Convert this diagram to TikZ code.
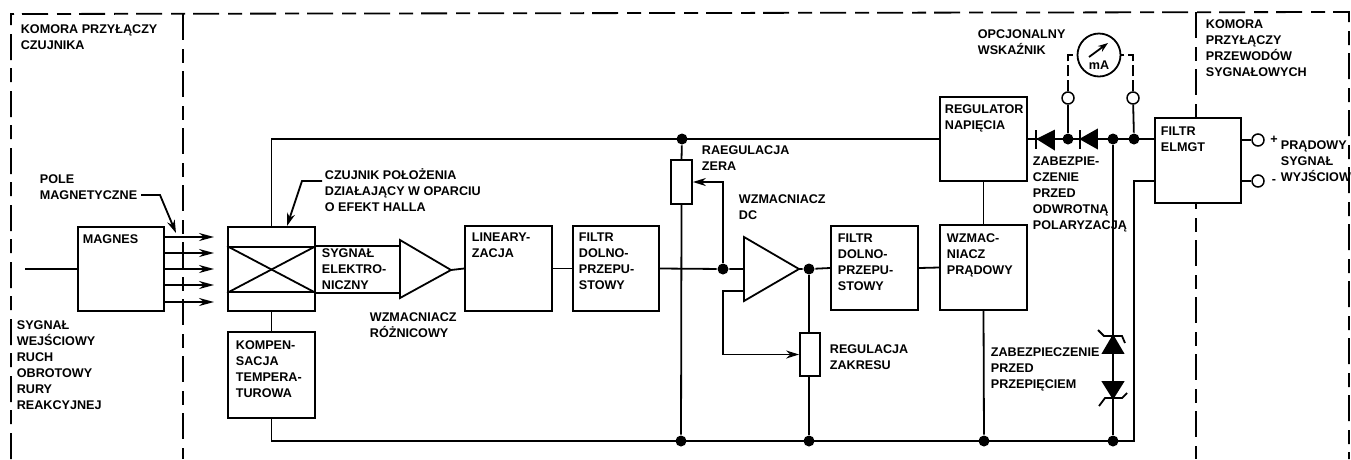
\documentclass[tikz,border=0pt]{standalone}
\usepackage{fontspec}
\setmainfont{Liberation Sans}
\usetikzlibrary{arrows.meta,calc,positioning}
\usetikzlibrary{shapes.geometric}
\tikzset{
blok/.style={rectangle,draw,fill=white,line width=1.8pt,inner sep=0pt},
opis/.style={anchor=north west,align=left,inner sep=0pt,font=\bfseries\fontsize{12.6}{16}\selectfont},
kropka/.style={circle,fill=black,inner sep=0pt,minimum size=11pt},
zacisk/.style={circle,draw,fill=white,line width=1.5pt,inner sep=0pt,minimum size=12pt},
kreski/.style={line width=1.8pt,dash pattern=on 26pt off 9pt on 14pt off 8pt},
strzalka/.style={-{Stealth[length=15pt,width=8pt]}},
strzalkam/.style={-{Stealth[length=13pt,width=8pt]}}
}
\begin{document}
\begin{tikzpicture}[x=1pt,y=-1pt,line width=1.8pt]
\useasboundingbox (0,0) rectangle (1351,459);
% komory
\coordinate (K1) at (11,459);
\coordinate (K2) at (11,14);
\coordinate (K3) at (1349,12);
\coordinate (K4) at (1349,459);
\coordinate (K5) at (183,14);
\coordinate (K6) at (183,459);
\coordinate (K7) at (1196,12);
\coordinate (K8) at (1196,459);
\draw[kreski] (K1)--(K2)--(K3)--(K4);
\draw[kreski] (K5)--(K6);
\draw[kreski] (K7)--(K8);
% bloki
\node[blok,minimum width=86pt,minimum height=84pt] (Bmag) at (121,269) {};
\node[blok,minimum width=87pt,minimum height=84pt] (Bhall) at (271.5,269) {};
\node[blok,minimum width=87pt,minimum height=45pt] (Bhallx) at (271.5,269.5) {};
\node[blok,minimum width=87pt,minimum height=86pt] (Bkomp) at (271.5,375) {};
\node[blok,minimum width=87pt,minimum height=85pt] (Blin) at (508.5,268.5) {};
\node[blok,minimum width=86pt,minimum height=85pt] (Bfil1) at (616,268.5) {};
\node[blok,minimum width=87pt,minimum height=84pt] (Bfil2) at (874.5,268) {};
\node[blok,minimum width=87pt,minimum height=85pt] (Bwzm) at (983.5,267.5) {};
\node[blok,minimum width=87pt,minimum height=84pt] (Breg) at (983.5,139) {};
\node[blok,minimum width=86pt,minimum height=85pt] (Bemi) at (1198,160.5) {};
\node[blok,minimum width=21pt,minimum height=44pt] (Rzero) at (681.5,182) {};
\node[blok,minimum width=20pt,minimum height=43pt] (Rzak) at (810,354.5) {};
% wezly
\node[kropka] (J1) at (682,139) {};
\node[kropka] (J2) at (723,269) {};
\node[kropka] (J3) at (809,269) {};
\node[kropka] (J4) at (681,441) {};
\node[kropka] (J5) at (809,441) {};
\node[kropka] (J6) at (984,441) {};
\node[kropka] (J7) at (1113,441) {};
\node[kropka] (J8) at (1068,139) {};
\node[kropka] (J9) at (1113,139) {};
\node[kropka] (J10) at (1134,139) {};
\node[zacisk] (Z1) at (1068,98) {};
\node[zacisk] (Z2) at (1133,98) {};
\node[zacisk] (Z3) at (1258,140) {};
\node[zacisk] (Z4) at (1258,181) {};
\node[circle,draw,line width=1.8pt,inner sep=0pt,minimum size=43pt] (Miernik) at (1099,55) {};
% wzmacniacze
\coordinate (W1a) at (400,240);
\coordinate (W1b) at (400,298);
\coordinate (W1c) at (451,270);
\coordinate (W2a) at (744,237);
\coordinate (W2b) at (744,301);
\coordinate (W2c) at (799,269);
\draw (W1a)--(W1c)--(W1b)--cycle;
\draw (W2a)--(W2c)--(W2b)--cycle;
% polaczenia
\coordinate (Wej) at (25,269);
\coordinate (Dol) at (1134,441);
\draw (Wej)--(Bmag.west);
\foreach \y in {237,253,269,285,302} {
\coordinate (Mp\y) at (Bmag.east |- 0,\y);
\coordinate (Mk\y) at (214,\y);
\draw[strzalka] (Mp\y)--(Mk\y);
}
\draw (Bhallx.north west)--(Bhallx.south east);
\draw (Bhallx.south west)--(Bhallx.north east);
\draw (Bhallx.north east)--(Bhallx.north east -| W1a);
\draw (Bhallx.south east)--(Bhallx.south east -| W1a);
\draw (Bhall.south)--(Bkomp.north);
\draw (Bhall.north)--(Bhall.north |- Breg.west)--(Breg.west);
\draw (Bkomp.south)--(Bkomp.south |- Dol)--(Dol)--(Dol |- Z4)--(Bemi.west |- Z4);
\draw (W1c)--(Blin.west);
\draw (Blin.east)--(Bfil1.west);
\draw (Bfil1.east)--(J2)--(W2a |- J2);
\draw (W2c)--(J3)--(Bfil2.west);
\draw (Bfil2.east)--(Bwzm.west);
\draw (Breg.south)--(Bwzm.north);
\draw (Bwzm.south)--(J6);
\draw (J1)--(Rzero.north);
\draw (Rzero.south)--(J4);
\draw[strzalkam] (J2)--(J2 |- Rzero.east)--(Rzero.east);
\draw (J3)--(Rzak.north -| J3);
\draw (Rzak.south -| J3)--(J5);
\draw[strzalkam] (W2a |- 0,291)--(J2 |- 0,291)--(J2 |- Rzak.west)--(Rzak.west);
\draw (Breg.east)--(Bemi.west |- Breg.east);
\draw (J8)--(Z1);
\draw (J10)--(Z2);
\draw (J9)--(J7);
\draw (Bemi.east |- Z3)--(Z3);
\draw (Bemi.east |- Z4)--(Z4);
% wskaznik
\draw[dashed,dash pattern=on 11pt off 4pt] (Z1)--(Z1 |- Miernik.west)--(Miernik.west);
\draw[dashed,dash pattern=on 11pt off 4pt] (Z2)--(Z2 |- Miernik.east)--(Miernik.east);
\coordinate (Ma) at (1089,57);
\coordinate (Mb) at (1108,43);
\draw[-{Stealth[length=10pt,width=7pt]}] (Ma)--(Mb);
\node[opis,anchor=center] (Tma) at (1099,65) {mA};
% diody
\coordinate (D1) at (1038,139);
\coordinate (D2) at (1054,131);
\coordinate (D3) at (1054,149);
\coordinate (D4) at (1036,130);
\coordinate (D5) at (1036,149);
\coordinate (D6) at (1081,139);
\coordinate (D7) at (1097,130);
\coordinate (D8) at (1097,148);
\coordinate (D9) at (1080,130);
\coordinate (D10) at (1080,149);
\draw[fill=black] (D1)--(D2)--(D3)--cycle;
\draw[fill=black] (D6)--(D7)--(D8)--cycle;
\draw (D4)--(D5);
\draw (D9)--(D10);
% zenery
\coordinate (G1) at (1113,336);
\coordinate (G2) at (1103,353);
\coordinate (G3) at (1123,353);
\coordinate (G4) at (1098,330);
\coordinate (G5) at (1104,336);
\coordinate (G6) at (1122,336);
\coordinate (G7) at (1125,343);
\coordinate (H1) at (1113,398);
\coordinate (H2) at (1103,382);
\coordinate (H3) at (1123,382);
\coordinate (H4) at (1099,406);
\coordinate (H5) at (1105,398);
\coordinate (H6) at (1122,398);
\coordinate (H7) at (1127,393);
\draw[fill=black] (G1)--(G2)--(G3)--cycle;
\draw[fill=black] (H1)--(H2)--(H3)--cycle;
\draw (G4)--(G5)--(G6)--(G7);
\draw (H4)--(H5)--(H6)--(H7);
% odnosniki
\node[opis] (Tpole) at (39,174) {POLE\\MAGNETYCZNE};
\coordinate (Pc) at (141,195);
\coordinate (Pa) at (160,195);
\coordinate (Pb) at (176,233);
\draw[strzalkam] (Pc)--(Pa)--(Pb);
\node[opis] (Tczuj) at (324,168) {CZUJNIK POŁOŻENIA\\DZIAŁAJĄCY W OPARCIU\\O EFEKT HALLA};
\coordinate (Ca) at (322,181);
\coordinate (Cb) at (302,181);
\coordinate (Cc) at (287,226);
\draw[strzalkam] (Ca)--(Cb)--(Cc);
% opisy
\node[opis] (Tkom1) at (20,24) {KOMORA PRZYŁĄCZY\\CZUJNIKA};
\node[opis] (Tkom2) at (1205,19) {KOMORA\\PRZYŁĄCZY\\PRZEWODÓW\\SYGNAŁOWYCH};
\node[opis] (Twej) at (16,320) {SYGNAŁ\\WEJŚCIOWY\\RUCH\\OBROTOWY\\RURY\\REAKCYJNEJ};
\node[opis] (Tmag) at (82,234) {MAGNES};
\node[opis] (Tkomp) at (235,340) {KOMPEN-\\SACJA\\TEMPERA-\\TUROWA};
\node[opis] (Tsyg) at (321,248) {SYGNAŁ\\ELEKTRO-\\NICZNY};
\node[opis] (Troz) at (369,312) {WZMACNIACZ\\RÓŻNICOWY};
\node[opis] (Tlin) at (471,232) {LINEARY-\\ZACJA};
\node[opis] (Tfil1) at (578,232) {FILTR\\DOLNO-\\PRZEPU-\\STOWY};
\node[opis] (Tzer) at (701,145) {RAEGULACJA\\ZERA};
\node[opis] (Tdc) at (738,194) {WZMACNIACZ\\DC};
\node[opis] (Tfil2) at (837,233) {FILTR\\DOLNO-\\PRZEPU-\\STOWY};
\node[opis] (Tzak) at (829,344) {REGULACJA\\ZAKRESU};
\node[opis] (Treg) at (944,104) {REGULATOR\\NAPIĘCIA};
\node[opis] (Twzm) at (946,233) {WZMAC-\\NIACZ\\PRĄDOWY};
\node[opis] (Topc) at (977,29) {OPCJONALNY\\WSKAŹNIK};
\node[opis] (Tpol) at (1032,156) {ZABEZPIE-\\CZENIE\\PRZED\\ODWROTNĄ\\POLARYZACJĄ};
\node[opis] (Tprz) at (990,347) {ZABEZPIECZENIE\\PRZED\\PRZEPIĘCIEM};
\node[opis] (Temi) at (1160,126) {FILTR\\ELMGT};
\node[opis,anchor=center] (Tplus) at (1274,140) {+};
\node[opis,anchor=center] (Tminus) at (1274,181) {-};
\node[opis] (Twyj) at (1280,140) {PRĄDOWY\\SYGNAŁ\\WYJŚCIOW};
\end{tikzpicture}
\end{document}
